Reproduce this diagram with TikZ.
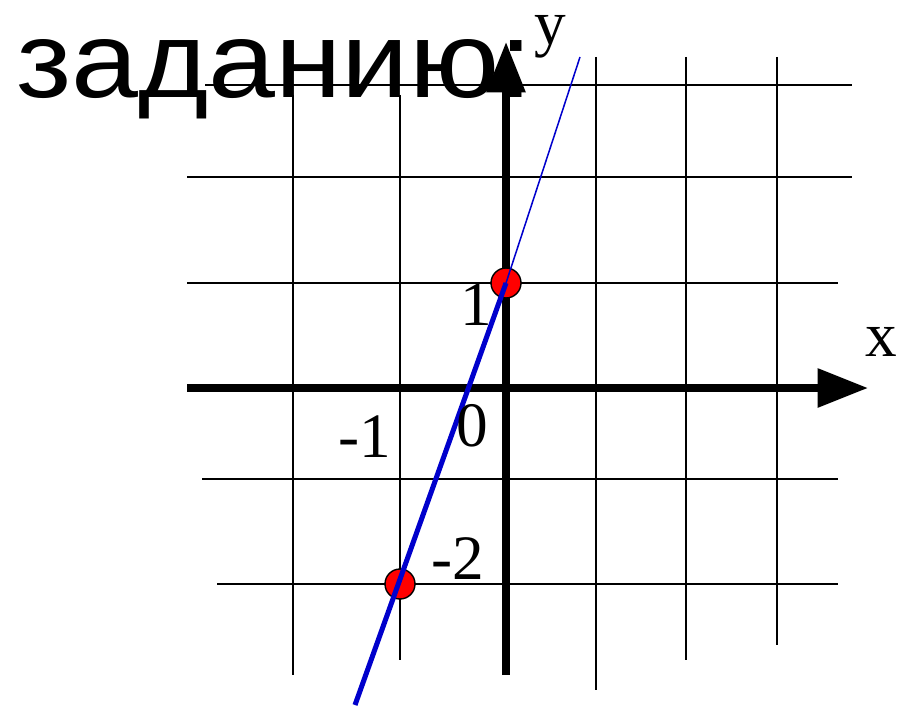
\documentclass[tikz,border=0pt]{standalone}
\usepackage{fontspec}
\setmainfont{Liberation Serif}
\newfontfamily\titlefont{Liberation Sans}
\usetikzlibrary{arrows.meta}
\definecolor{lineblue}{RGB}{0,0,204}

\tikzset{
  gridline/.style={black, line width=1.7pt},
  axisline/.style={black, line width=6.4pt,
    -{Triangle[length=43pt, width=32pt]}},
  dotmark/.style={fill=red, draw=black, line width=1.2pt},
  ticklabel/.style={inner sep=0pt, font=\fontsize{54}{54}\selectfont}
}

\begin{document}
\begin{tikzpicture}[x=0.03cm, y=-0.03cm]
  \useasboundingbox (0,0) rectangle (902,709);
  %% Grid: horizontal lines
  \foreach \y/\xa/\xb in {85/205/852, 177/187/852, 283/187/838,
                          479/202/838, 584/217/838}
    \draw[gridline] (\xa,\y) -- (\xb,\y);
  %% Grid: vertical lines
  \foreach \x/\ya/\yb in {293/95/675, 400/95/660, 596/57/690,
                          686/57/660, 777/57/645}
    \draw[gridline] (\x,\ya) -- (\x,\yb);
  %% Axes
  \draw[axisline] (187,388) -- (868,388);
  \draw[axisline] (506,675) -- (506,42);
  %% Points on the graph
  \draw[dotmark] (506,283) circle (15);
  \draw[dotmark] (400,584) circle (15);
  %% Graph of the line
  \draw[lineblue, line width=4.3pt] (355,705) -- (506,283);
  \draw[lineblue, line width=1.3pt] (506,283) -- (580,57);
  %% Labels
  \node[ticklabel] (ylab) at (550,37) {y};
  \node[ticklabel] (xlab) at (881,342) {x};
  \node[ticklabel] (one) at (476,305) {1};
  \node[ticklabel] (zero) at (472,426) {0};
  \node[ticklabel] (mone) at (365,437) {-1};
  \node[ticklabel] (mtwo) at (458,559) {-2};
  %% Title
  \node[anchor=base west, inner sep=0pt, xscale=0.96, yscale=0.86,
        font=\titlefont\fontsize{107}{107}\selectfont] (title) at (16,98)
    {заданию:};
\end{tikzpicture}
\end{document}
